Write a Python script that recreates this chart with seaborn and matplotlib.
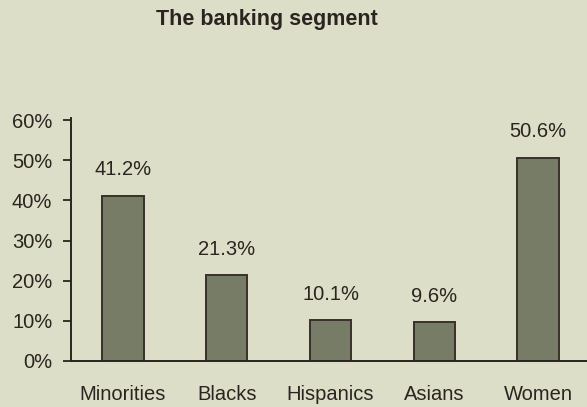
import matplotlib
matplotlib.use("Agg")
import matplotlib.pyplot as plt
import seaborn as sns
import pandas as pd

categories = ["Minorities", "Blacks", "Hispanics", "Asians", "Women"]
values = [41.2, 21.3, 10.1, 9.6, 50.6]
value_labels = ["41.2%", "21.3%", "10.1%", "9.6%", "50.6%"]
yticks = [0, 10, 20, 30, 40, 50, 60]
ytick_labels = ["0%", "10%", "20%", "30%", "40%", "50%", "60%"]
title = "The banking segment"

bg = "#dcdec8"
ink = "#2b2420"
fs = 14.5

sns.set_theme(style="white")
plt.rcParams["font.family"] = ["Liberation Sans", "DejaVu Sans"]

fig = plt.figure(figsize=(5.87, 4.07), dpi=100, facecolor=bg)
ax = fig.add_axes([71/587, 1 - 361/407, 1 - 71/587 + 3/587, (361 - 118)/407])
ax.set_facecolor(bg)

df = pd.DataFrame({"cat": categories, "val": values})
sns.barplot(data=df, x="cat", y="val", ax=ax, color="#777c67", width=0.4,
            edgecolor="#3a302b", linewidth=1.4, saturation=1)

for i, (v, lab) in enumerate(zip(values, value_labels)):
    ax.annotate(lab, (i, v), xytext=(0, 15), textcoords="offset points",
                ha="center", va="baseline", fontsize=fs, color=ink)

ax.set_xlim(-0.5, 4.5)
ax.set_ylim(0, 60.5)
ax.set_yticks(yticks)
ax.set_yticklabels(ytick_labels, fontsize=fs, color=ink)
ax.set_xticks(range(len(categories)))
ax.set_xticklabels(categories, fontsize=fs, color=ink)
ax.set_xticks([0.5, 1.5, 2.5, 3.5], minor=True)
ax.tick_params(axis="x", which="major", length=0, pad=17)
ax.tick_params(axis="x", which="minor", direction="inout", length=10, width=1.3, color=ink)
ax.tick_params(axis="y", which="major", direction="out", length=5.5, width=1.3, color=ink, left=True, pad=8)
ax.set_xlabel("")
ax.set_ylabel("")
for s in ["top", "right"]:
    ax.spines[s].set_visible(False)
for s in ["left", "bottom"]:
    ax.spines[s].set_color(ink)
    ax.spines[s].set_linewidth(1.4)

fig.text(267/587, 1 - 20/407, title, ha="center", va="center",
         fontsize=15.5, fontweight="bold", color=ink)

fig.savefig("out.png", dpi=100, facecolor=bg)
